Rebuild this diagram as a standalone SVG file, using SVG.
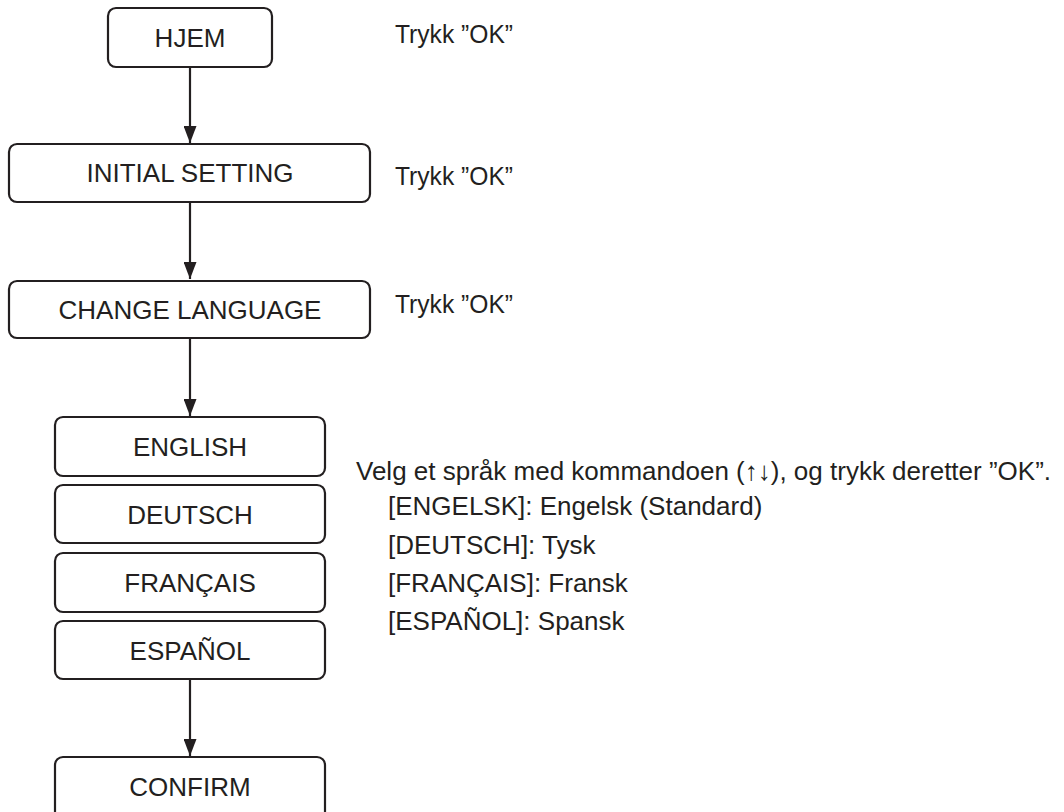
<svg xmlns="http://www.w3.org/2000/svg" width="1064" height="812" viewBox="0 0 1064 812">
<style>
.box{fill:#fff;stroke:#231f20;stroke-width:2.2}
.t{font-family:"Liberation Sans",Arial,sans-serif;font-size:26px;fill:#231f20}
.c{text-anchor:middle}
.ln{stroke:#231f20;stroke-width:2.2;fill:none}
</style>
<defs>
<marker id="ah" markerWidth="17" markerHeight="13" refX="17" refY="6.5" orient="auto" markerUnits="userSpaceOnUse" viewBox="0 0 17 13">
<path d="M0,0 L17,6.5 L0,13 Z" fill="#231f20"/>
</marker>
</defs>
<rect width="1064" height="812" fill="#fff"/>
<g id="connectors">
<line class="ln" x1="190" y1="67" x2="190" y2="143" marker-end="url(#ah)"/>
<line class="ln" x1="190" y1="202" x2="190" y2="279" marker-end="url(#ah)"/>
<line class="ln" x1="190" y1="338" x2="190" y2="416" marker-end="url(#ah)"/>
<line class="ln" x1="190" y1="679" x2="190" y2="756" marker-end="url(#ah)"/>
</g>
<g id="hjem"><rect class="box" x="108" y="8" width="164" height="59" rx="8"/><text class="t c" x="190" y="47">HJEM</text></g>
<g id="initial"><rect class="box" x="9" y="144" width="361" height="58" rx="8"/><text class="t c" x="190" y="182">INITIAL SETTING</text></g>
<g id="change"><rect class="box" x="9" y="281" width="361" height="57" rx="8"/><text class="t c" x="190" y="319">CHANGE LANGUAGE</text></g>
<g id="english"><rect class="box" x="55" y="417" width="270" height="59" rx="8"/><text class="t c" x="190" y="456">ENGLISH</text></g>
<g id="deutsch"><rect class="box" x="55" y="485" width="270" height="58" rx="8"/><text class="t c" x="190" y="524">DEUTSCH</text></g>
<g id="francais"><rect class="box" x="55" y="553" width="270" height="59" rx="8"/><text class="t c" x="190" y="592">FRANÇAIS</text></g>
<g id="espanol"><rect class="box" x="55" y="621" width="270" height="58" rx="8"/><text class="t c" x="190" y="660">ESPAÑOL</text></g>
<g id="confirm"><rect class="box" x="55" y="757" width="270" height="64" rx="8"/><text class="t c" x="190" y="796">CONFIRM</text></g>
<g id="notes">
<text class="t" x="395" y="43" textLength="118" lengthAdjust="spacingAndGlyphs">Trykk ”OK”</text>
<text class="t" x="395" y="185" textLength="118" lengthAdjust="spacingAndGlyphs">Trykk ”OK”</text>
<text class="t" x="395" y="313" textLength="118" lengthAdjust="spacingAndGlyphs">Trykk ”OK”</text>
<text class="t" x="356" y="480">Velg et språk med kommandoen (↑↓), og trykk deretter ”OK”.</text>
<text class="t" x="388" y="515">[ENGELSK]: Engelsk (Standard)</text>
<text class="t" x="388" y="554">[DEUTSCH]: Tysk</text>
<text class="t" x="388" y="592">[FRANÇAIS]: Fransk</text>
<text class="t" x="388" y="630">[ESPAÑOL]: Spansk</text>
</g>
</svg>
